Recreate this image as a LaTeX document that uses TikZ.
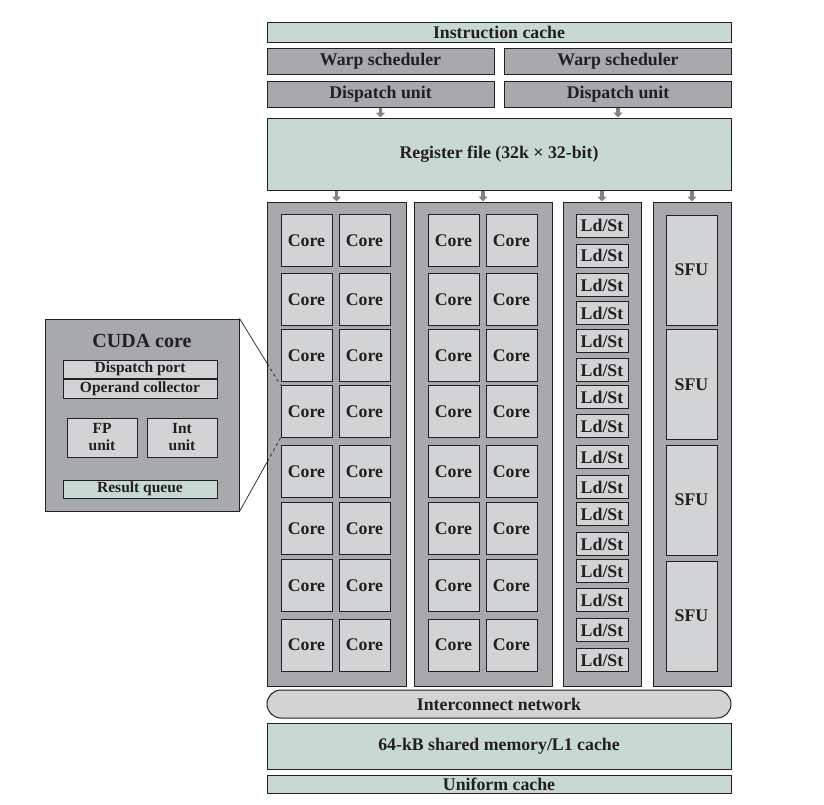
\documentclass[tikz,border=0pt]{standalone}
\usepackage{fontspec}
\setmainfont{Liberation Serif}
\usepackage{tikz}
\usetikzlibrary{positioning,arrows.meta,calc}
\definecolor{ink}{RGB}{35,31,32}
\definecolor{cachefill}{RGB}{200,217,212}
\definecolor{darkfill}{RGB}{167,169,172}
\definecolor{lightfill}{RGB}{209,211,212}
\definecolor{arrowgray}{RGB}{128,130,133}

\begin{document}
\begin{tikzpicture}[
  x=1pt, y=-1pt,
  every node/.style={font=\bfseries\fontsize{17.8}{19}\selectfont, text=ink,
                     inner sep=0pt, line width=1pt},
  cachebox/.style={rectangle, draw=ink, fill=cachefill, minimum width=464pt, align=center},
  ctrlbox/.style={rectangle, draw=ink, fill=darkfill, minimum width=227pt, minimum height=26pt},
  colbox/.style={rectangle, draw=ink, fill=darkfill, minimum height=484pt},
  unit/.style={rectangle, draw=ink, fill=lightfill},
  core/.style={unit, minimum width=51pt, minimum height=52pt},
  ldst/.style={unit, minimum width=52pt, minimum height=23pt},
  sfu/.style={unit, minimum width=51pt, minimum height=110pt},
  small/.style={font=\bfseries\fontsize{15.5}{17}\selectfont},
  feed/.style={-{Triangle[width=9pt,length=5pt]}, line width=3.5pt, draw=arrowgray},
  zoomline/.style={draw=ink, line width=0.7pt}
]
  \path[fill=white] (0,0) rectangle (824,804);
  \useasboundingbox (0,0) rectangle (824,804);

  % front end
  \node[cachebox, minimum height=20pt] (icache) at (499,32) {Instruction cache};
  \node[ctrlbox] (warp1) at (380.5,61) {Warp scheduler};
  \node[ctrlbox] (warp2) at (618,61) {Warp scheduler};
  \node[ctrlbox] (disp1) at (380.5,94) {Dispatch unit};
  \node[ctrlbox] (disp2) at (618,94) {Dispatch unit};
  \node[cachebox, minimum height=72pt] (regfile) at (499,154) {Register file (32k × 32-bit)};

  \draw[feed] (disp1.south) -- (disp1.south |- regfile.north);
  \draw[feed] (disp2.south) -- (disp2.south |- regfile.north);

  % execution columns
  \node[colbox, minimum width=139pt] (col1) at (336.5,444) {};
  \node[colbox, minimum width=138pt] (col2) at (483,444) {};
  \node[colbox, minimum width=78pt] (col3) at (602,444) {};
  \node[colbox, minimum width=78pt] (col4) at (692,444) {};

  \foreach \c in {col1,col2,col3,col4}
    \draw[feed] (\c.north |- regfile.south) -- (\c.north);

  \foreach \r/\y in {1/240.5,2/299.5,3/355.5,4/411.5,5/471.5,6/528.5,7/585.5,8/645}{
    \node[core] (a\r-1) at (306.5,\y) {Core};
    \node[core] (a\r-2) at (364.5,\y) {Core};
    \node[core] (b\r-1) at (453.5,\y) {Core};
    \node[core] (b\r-2) at (511.5,\y) {Core};
  }

  \foreach \y [count=\i] in {225.5,255.5,285,313,341,370,397,426,457,487,514,544,571,600,630,660}
    \node[ldst] (ls\i) at (602,\y) {Ld/St};

  \foreach \y [count=\i] in {270,384.5,500,616}
    \node[sfu] (sfu\i) at (691.5,\y) {SFU};

  % memory side
  \node[rectangle, draw=ink, fill=lightfill, rounded corners=14pt,
        minimum width=464pt, minimum height=28pt] (net) at (499,704) {Interconnect network};
  \node[cachebox, minimum height=46pt] (smem) at (499,746) {64-kB shared memory/L1 cache};
  \node[cachebox, minimum height=18pt] (ucache) at (499,784) {Uniform cache};

  % CUDA core detail
  \node[rectangle, draw=ink, fill=darkfill, minimum width=194pt, minimum height=192pt] (cuda) at (142,415) {};
  \node[font=\bfseries\fontsize{20}{22}\selectfont] (cudatitle) at (142,341) {CUDA core};
  \node[unit, small, minimum width=154pt, minimum height=18pt] (dport) at (140,369) {Dispatch port};
  \node[unit, small, minimum width=154pt, minimum height=19pt, below=0pt of dport] (opcol) {Operand collector};
  \node[unit, small, minimum width=70pt, minimum height=39pt, align=center] (fpu) at (102,437.5) {FP\\unit};
  \node[unit, small, minimum width=70pt, minimum height=39pt, align=center] (intu) at (182,437.5) {Int\\unit};
  \node[rectangle, draw=ink, fill=cachefill, small, minimum width=154pt, minimum height=18pt] (rq) at (140,489) {Result queue};

  \path (cuda.north east) -- coordinate[pos=0.68] (zt) (a4-1.north west);
  \path (cuda.south east) -- coordinate[pos=0.68] (zb) (a4-1.south west);
  \draw[zoomline] (cuda.north east) -- (zt);
  \draw[zoomline, dashed] (zt) -- (a4-1.north west);
  \draw[zoomline] (cuda.south east) -- (zb);
  \draw[zoomline, dashed] (zb) -- (a4-1.south west);
\end{tikzpicture}
\end{document}
